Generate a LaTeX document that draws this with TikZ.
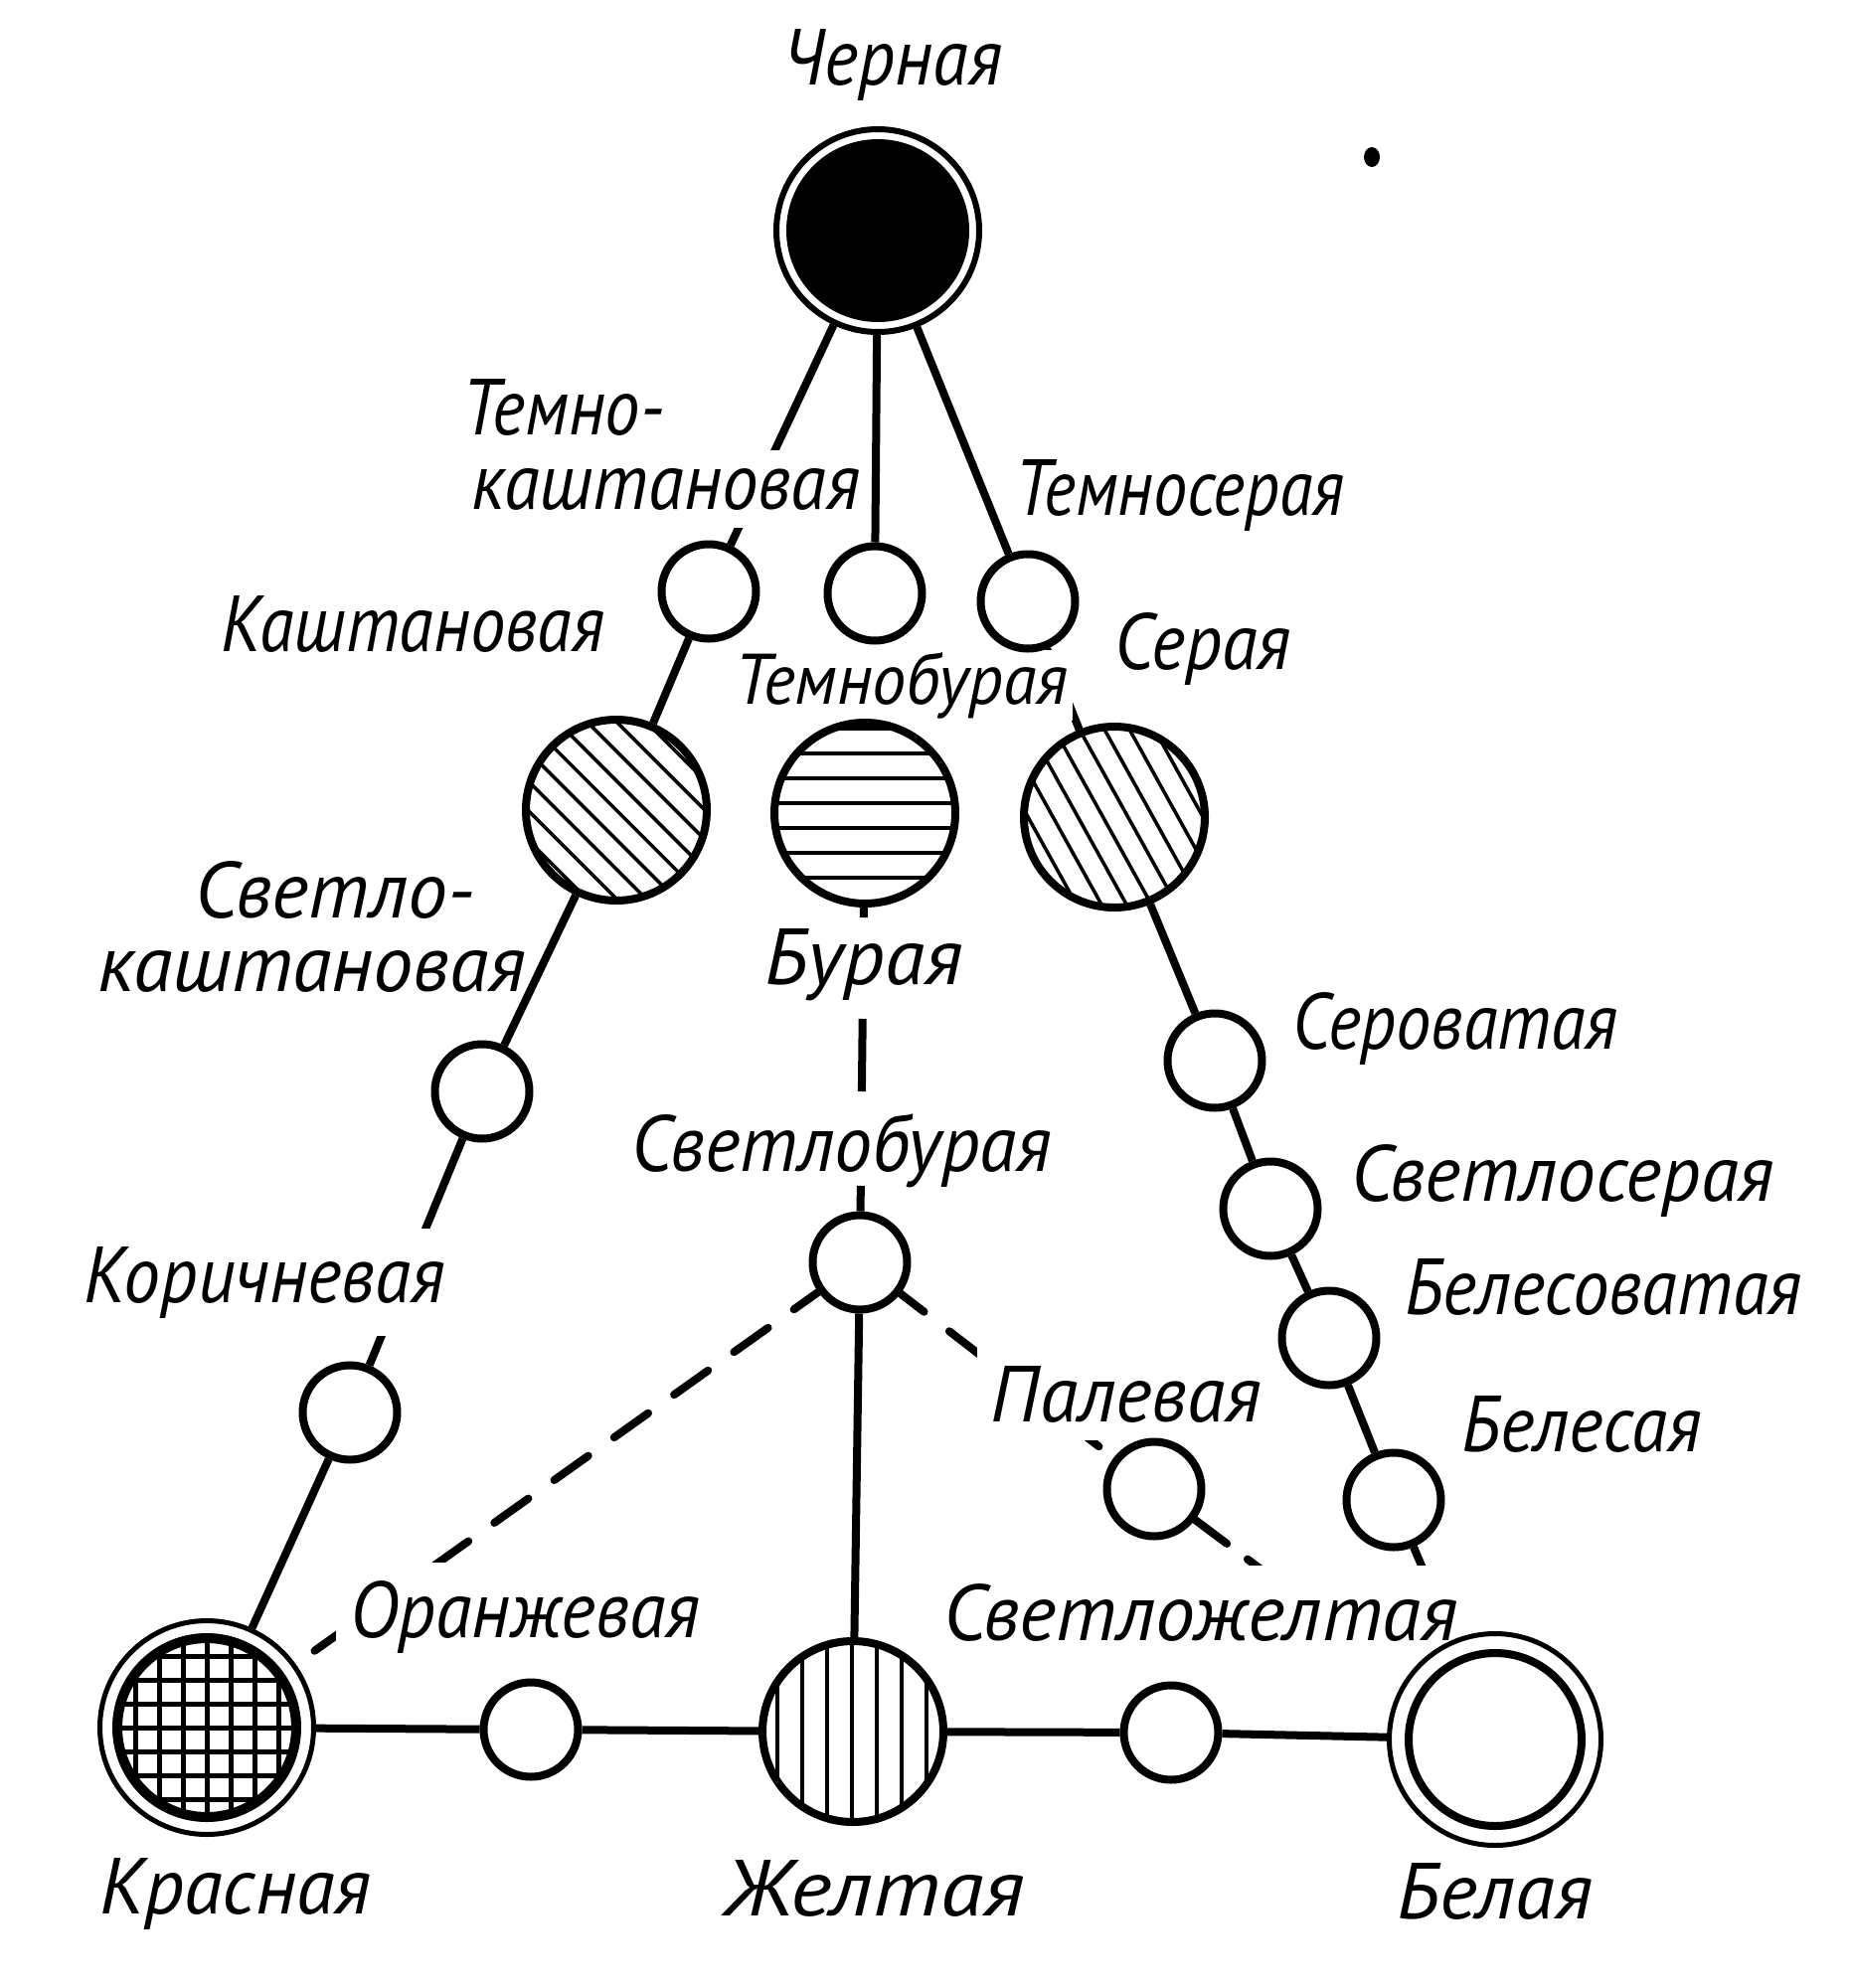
\documentclass[tikz,border=0pt]{standalone}
\usepackage{fontspec}
\newfontfamily\lbl{PT Sans}[FakeStretch=0.95]
\newcommand\hsc[2]{\scalebox{#1}[1]{#2}}
\pgfdeclarelayer{bg}
\pgfdeclarelayer{lines}
\pgfdeclarelayer{fills}
\pgfsetlayers{bg,lines,fills,main}
\begin{document}
\begin{tikzpicture}[x=1pt,y=-1pt,
  sm/.style={circle,draw,line width=8pt,minimum size=95pt,inner sep=0pt,fill=white},
  hat/.style 2 args={circle,draw,line width=8pt,minimum size=182pt,inner sep=0pt,fill=white,
    path picture={\begin{scope}[shift={(path picture bounding box.center)}]
      \foreach \d in {#2} \draw[black,line width=3.5pt]
        ({-\d*sin(#1)-130*cos(#1)},{\d*cos(#1)-130*sin(#1)}) --
        ({-\d*sin(#1)+130*cos(#1)},{\d*cos(#1)+130*sin(#1)});
    \end{scope}}},
  con/.style={line width=8pt},
  dsh/.style={line width=8pt,line cap=round,dash pattern=on 42pt off 32pt},
  lab/.style={font=\lbl\itshape\fontsize{80}{84}\selectfont,inner sep=0pt,anchor=base},
  wlab/.style={lab,fill=white,inner xsep=14pt,inner ysep=18pt},
]
\begin{pgfonlayer}{bg}
\fill[white] (0,0) rectangle (1862,2000);
\end{pgfonlayer}
\useasboundingbox (0,0) rectangle (1862,2000);

% big circles
\node[circle,draw,line width=6pt,minimum size=204pt,inner sep=0pt,fill=white,
  path picture={\fill[black] (path picture bounding box.center) circle[radius=92];}] (cher) at (883,232) {};
\node[circle,draw,line width=5pt,minimum size=215pt,inner sep=0pt,fill=white,
  path picture={\begin{scope}[shift={(path picture bounding box.center)}]
    \begin{scope}\clip (0,0) circle[radius=90];
      \foreach \d in {-72,-48,...,72} {\draw[black,line width=5pt] (-100,\d) -- (100,\d);
        \draw[black,line width=5pt] (\d,-100) -- (\d,100);}
    \end{scope}
    \draw[black,line width=10pt] (0,0) circle[radius=90];
  \end{scope}}] (kras) at (208,1738) {};
\node[circle,draw,line width=5pt,minimum size=213pt,inner sep=0pt,fill=white,
  path picture={\draw[black,line width=8pt] (path picture bounding box.center) circle[radius=87];}] (bel) at (1504,1750) {};

% hatched circles
\node[hat={45}{-105,-84,...,105}] (hk) at (620,815) {};
\node[hat={0}{-85,-60,...,90}] (hb) at (870,818) {};
\node[hat={61}{-100,-78,...,100}] (hs) at (1121,822) {};
\node[hat={90}{-74,-49,...,76}] (zh) at (858,1742) {};

% small circles
\node[sm] (tk) at (713,595) {};
\node[sm] (tb) at (880,597) {};
\node[sm] (ts) at (1034,605) {};
\node[sm] (svk) at (485,1098) {};
\node[sm] (kor) at (352,1421) {};
\node[sm] (svb) at (865,1270) {};
\node[sm] (sv) at (1222,1067) {};
\node[sm] (svs) at (1278,1216) {};
\node[sm] (bls) at (1337,1346) {};
\node[sm] (ble) at (1402,1509) {};
\node[sm] (pal) at (1161,1498) {};
\node[sm] (or) at (534,1740) {};
\node[sm] (svzh) at (1178,1743) {};
\coordinate (pend) at (1330,1625);

% connectors
\begin{pgfonlayer}{lines}
\draw[con] (cher) -- (tk);
\draw[con] (cher) -- (tb);
\draw[con] (cher) -- (ts);
\draw[con] (tk) -- (hk);
\draw[con] (ts) -- (hs);
\draw[con] (hk) -- (svk);
\draw[con] (svk) -- (kor);
\draw[con] (kor) -- (kras);
\draw[con] (hs) -- (sv);
\draw[con] (sv) -- (svs);
\draw[con] (svs) -- (bls);
\draw[con] (bls) -- (ble);
\draw[con] (ble) -- (bel);
\draw[con,dash pattern=on 10pt off 102pt on 73pt off 95pt on 40pt] (hb) -- (svb);
\draw[dsh,dash phase=12pt] (svb) -- (kras);
\draw[dsh,dash phase=12pt] (svb) -- (pal);
\draw[line width=8pt,line cap=round,dash pattern=on 40pt off 26pt] (pal) -- (pend);
\draw[con] (svb) -- (zh);
\draw[con] (kras) -- (or);
\draw[con] (or) -- (zh);
\draw[con] (zh) -- (svzh);
\draw[con] (svzh) -- (bel);
\end{pgfonlayer}

% labels
\begin{pgfonlayer}{fills}
\node[wlab,inner xsep=4pt] (l3) at (670,512) {\hsc{0.96}{каштановая}};
\node[wlab,inner xsep=4pt,inner ysep=2pt,font=\lbl\itshape\fontsize{72}{76}\selectfont] (l6) at (907,708) {Темнобурая};
\node[wlab] (l14) at (266,1310) {\hsc{0.97}{Коричневая}};
\node[wlab] (l16) at (1133,1430) {\hsc{1.03}{Палевая}};
\node[wlab] (l18) at (528,1647) {\hsc{0.98}{Оранжевая}};
\node[wlab,inner xsep=24pt] (l19) at (1208,1650) {\hsc{1.05}{Светложелтая}};
\end{pgfonlayer}
\node[lab] (l1) at (898,85) {\hsc{0.96}{Черная}};
\node[lab] (l2) at (567,437) {\hsc{0.93}{Темно-}};
\node[lab] (l4) at (1187,518) {\hsc{0.9}{Темносерая}};
\node[lab] (l5) at (415,655) {\hsc{0.93}{Каштановая}};
\node[lab] (l7) at (1210,673) {\hsc{0.96}{Серая}};
\node[lab] (l8) at (337,923) {\hsc{1.05}{Светло-}};
\node[lab] (l9) at (314,997) {\hsc{1.06}{каштановая}};
\node[lab] (l10) at (869,990) {\hsc{1.08}{Бурая}};
\node[lab] (l11) at (1464,1055) {\hsc{0.93}{Сероватая}};
\node[lab] (l12) at (847,1178) {Светлобурая};
\node[lab] (l13) at (1572,1208) {\hsc{1.02}{Светлосерая}};
\node[lab] (l15) at (1613,1322) {\hsc{0.96}{Белесоватая}};
\node[lab] (l17) at (1591,1460) {\hsc{0.97}{Белесая}};
\node[lab] (l20) at (237,1925) {\hsc{1.04}{Красная}};
\node[lab] (l21) at (880,1927) {\hsc{1.17}{Желтая}};
\node[lab] (l22) at (1504,1930) {\hsc{1.07}{Белая}};

\fill (1380,158) ellipse [x radius=8, y radius=10];
\end{tikzpicture}
\end{document}
